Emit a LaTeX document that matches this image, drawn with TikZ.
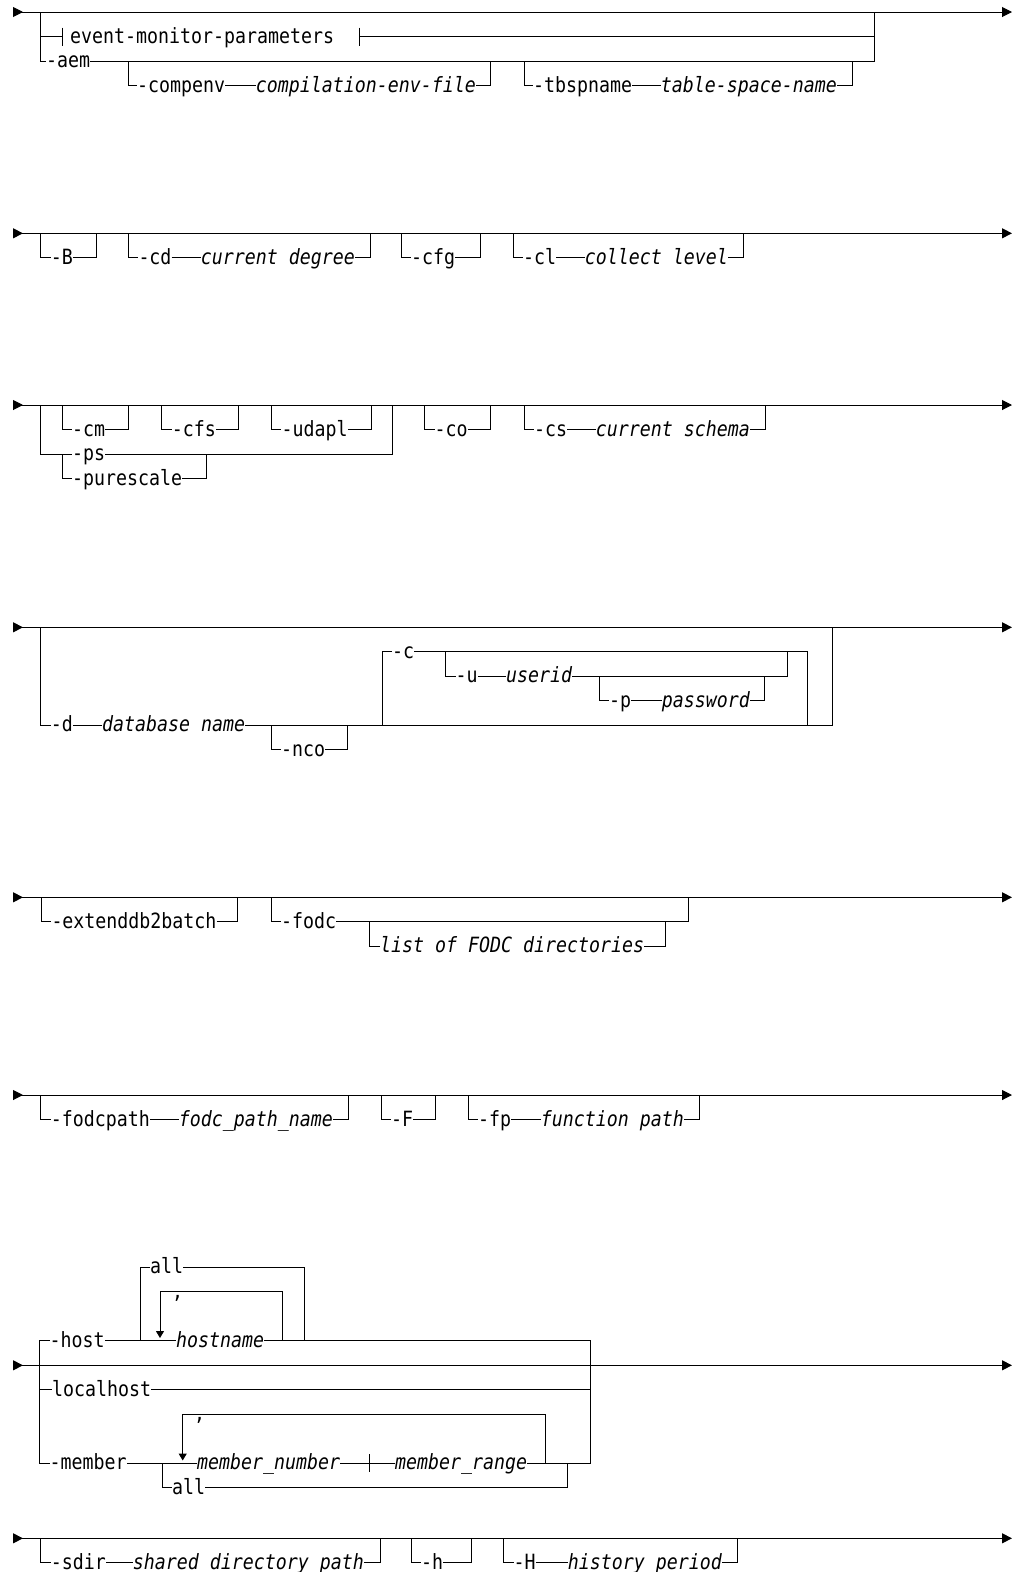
\documentclass[tikz,border=0pt]{standalone}
\usepackage{fontspec}
\newfontfamily\railfont[FakeStretch=0.87]{DejaVu Sans Mono}
\usetikzlibrary{positioning, arrows.meta}

\tikzset{
  rail/.style={line width=1pt},
  kw/.style={inner sep=0pt, text height=13pt, text depth=0pt, anchor=west,
             font={\railfont\fontsize{21pt}{24pt}\selectfont}},
  var/.style={kw, font={\railfont\fontsize{21pt}{24pt}\selectfont\itshape}},
  endtip/.style={-{Triangle[length=10pt,width=10pt]}},
  looptip/.style={-{Triangle[length=7pt,width=8pt]}}
}

\begin{document}
\begin{tikzpicture}[x=1pt, y=-1pt]
    \useasboundingbox (0,0) rectangle (1019,1572);

    % main lines
    \coordinate (in1) at (13,12);      \coordinate (out1) at (1012,12);
    \coordinate (in2) at (13,233.3);   \coordinate (out2) at (1012,233.3);
    \coordinate (in3) at (13,405);     \coordinate (out3) at (1012,405);
    \coordinate (in4) at (13,627.3);   \coordinate (out4) at (1012,627.3);
    \coordinate (in5) at (13,897.3);   \coordinate (out5) at (1012,897.3);
    \coordinate (in6) at (13,1095);    \coordinate (out6) at (1012,1095);
    \coordinate (in7) at (13,1365.3);  \coordinate (out7) at (1012,1365.3);
    \coordinate (in8) at (13,1538.3);  \coordinate (out8) at (1012,1538.3);
    \draw[rail, endtip] (in1) -- (out1);  \draw[rail, endtip] (in1) -- ++(10,0);
    \draw[rail, endtip] (in2) -- (out2);  \draw[rail, endtip] (in2) -- ++(10,0);
    \draw[rail, endtip] (in3) -- (out3);  \draw[rail, endtip] (in3) -- ++(10,0);
    \draw[rail, endtip] (in4) -- (out4);  \draw[rail, endtip] (in4) -- ++(10,0);
    \draw[rail, endtip] (in5) -- (out5);  \draw[rail, endtip] (in5) -- ++(10,0);
    \draw[rail, endtip] (in6) -- (out6);  \draw[rail, endtip] (in6) -- ++(10,0);
    \draw[rail, endtip] (in7) -- (out7);  \draw[rail, endtip] (in7) -- ++(10,0);
    \draw[rail, endtip] (in8) -- (out8);  \draw[rail, endtip] (in8) -- ++(10,0);

    % row 1
    \coordinate (r1L) at (40.7,12);  \coordinate (r1R) at (874.5,12);
    \coordinate (empA) at (62,36.5); \coordinate (empB) at (359,36.5);
    \node[kw] (emp) at (70,36.5) {event-monitor-parameters};
    \draw[rail] (r1L) |- (empA);
    \draw[rail] (empA) ++(0,-9) -- ++(0,18);
    \draw[rail] (empB) ++(0,-9) -- ++(0,18);
    \draw[rail] (empB) -- (empB -| r1R);
    \node[kw] (aem) at (46,61) {-aem};
    \draw[rail] (r1L) |- (aem.west);
    \draw[rail] (aem.east) -| (r1R);
    \coordinate (cpL) at (128.3,61); \coordinate (cpR) at (490,61);
    \node[kw] (compenv) at (137,85.5) {-compenv};
    \node[var, anchor=east] (cpfile) at (476,85.5) {compilation-env-file};
    \draw[rail] (cpL) |- (compenv.west) (compenv.east) -- (cpfile.west) (cpfile.east) -| (cpR);
    \coordinate (tbL) at (524,61); \coordinate (tbR) at (852,61);
    \node[kw] (tbsp) at (533,85.5) {-tbspname};
    \node[var, anchor=east] (tbname) at (837,85.5) {table-space-name};
    \draw[rail] (tbL) |- (tbsp.west) (tbsp.east) -- (tbname.west) (tbname.east) -| (tbR);

    % row 2
    \coordinate (bL) at (40.7,233.3); \coordinate (bR) at (96,233.3);
    \node[kw] (B) at (50.7,257.8) {-B};
    \draw[rail] (bL) |- (B.west) (B.east) -| (bR);
    \coordinate (cdL) at (128.3,233.3); \coordinate (cdR) at (370,233.3);
    \node[kw] (cd) at (138.3,257.8) {-cd};
    \node[var, anchor=east] (cdeg) at (355,257.8) {current degree};
    \draw[rail] (cdL) |- (cd.west) (cd.east) -- (cdeg.west) (cdeg.east) -| (cdR);
    \coordinate (cfgL) at (401,233.3); \coordinate (cfgR) at (480,233.3);
    \node[kw] (cfg) at (411,257.8) {-cfg};
    \draw[rail] (cfgL) |- (cfg.west) (cfg.east) -| (cfgR);
    \coordinate (clL) at (513,233.3); \coordinate (clR) at (743,233.3);
    \node[kw] (cl) at (523,257.8) {-cl};
    \node[var, anchor=east] (clev) at (728,257.8) {collect level};
    \draw[rail] (clL) |- (cl.west) (cl.east) -- (clev.west) (clev.east) -| (clR);

    % row 3
    \coordinate (r3L) at (40.8,405); \coordinate (grR) at (392,405);
    \coordinate (cmL) at (62,405); \coordinate (cmR) at (128.6,405);
    \node[kw] (cm) at (72,429.5) {-cm};
    \draw[rail] (cmL) |- (cm.west) (cm.east) -| (cmR);
    \coordinate (cfsL) at (161.7,405); \coordinate (cfsR) at (238,405);
    \node[kw] (cfs) at (171.7,429.5) {-cfs};
    \draw[rail] (cfsL) |- (cfs.west) (cfs.east) -| (cfsR);
    \coordinate (udL) at (271.4,405); \coordinate (udR) at (371,405);
    \node[kw] (udapl) at (281.4,429.5) {-udapl};
    \draw[rail] (udL) |- (udapl.west) (udapl.east) -| (udR);
    \node[kw] (ps) at (72,454) {-ps};
    \draw[rail] (r3L) |- (ps.west);
    \draw[rail] (ps.east) -| (grR);
    \coordinate (psJ) at (62,454); \coordinate (pureR) at (206.6,454);
    \node[kw] (pure) at (72,478.5) {-purescale};
    \draw[rail] (psJ) |- (pure.west) (pure.east) -| (pureR);
    \coordinate (coL) at (424.5,405); \coordinate (coR) at (490.8,405);
    \node[kw] (co) at (434.5,429.5) {-co};
    \draw[rail] (coL) |- (co.west) (co.east) -| (coR);
    \coordinate (csL) at (524,405); \coordinate (csR) at (765,405);
    \node[kw] (cs) at (534,429.5) {-cs};
    \node[var, anchor=east] (cschema) at (750,429.5) {current schema};
    \draw[rail] (csL) |- (cs.west) (cs.east) -- (cschema.west) (cschema.east) -| (csR);

    % row 4
    \coordinate (r4L) at (40.6,627.3); \coordinate (r4R) at (832,627.3);
    \node[kw] (d) at (50.6,725.3) {-d};
    \node[var] (dbname) at (102,725.3) {database name};
    \draw[rail] (r4L) |- (d.west) (d.east) -- (dbname.west);
    \draw[rail] (dbname.east) -| (r4R);
    \coordinate (ncoL) at (271,725.3); \coordinate (ncoR) at (347,725.3);
    \node[kw] (nco) at (281,749.8) {-nco};
    \draw[rail] (ncoL) |- (nco.west) (nco.east) -| (ncoR);
    \coordinate (cL) at (382,725.3); \coordinate (cR) at (807.6,725.3);
    \node[kw] (c) at (392,651.8) {-c};
    \draw[rail] (cL) |- (c.west) (c.east) -| (cR);
    \coordinate (uL) at (445.5,651.8); \coordinate (uR) at (787,651.8);
    \node[kw] (u) at (455.5,676.3) {-u};
    \node[var] (userid) at (506,676.3) {userid};
    \draw[rail] (uL) |- (u.west) (u.east) -- (userid.west) (userid.east) -| (uR);
    \coordinate (pL) at (599,676.3); \coordinate (pR) at (764,676.3);
    \node[kw] (p) at (609,700.8) {-p};
    \node[var, anchor=east] (passwd) at (750,700.8) {password};
    \draw[rail] (pL) |- (p.west) (p.east) -- (passwd.west) (passwd.east) -| (pR);

    % row 5
    \coordinate (exL) at (41.3,897.3); \coordinate (exR) at (237.8,897.3);
    \node[kw] (ext) at (51.3,921.8) {-extenddb2batch};
    \draw[rail] (exL) |- (ext.west) (ext.east) -| (exR);
    \coordinate (fdL) at (271,897.3); \coordinate (fdR) at (688.7,897.3);
    \node[kw] (fodc) at (281,921.8) {-fodc};
    \draw[rail] (fdL) |- (fodc.west) (fodc.east) -| (fdR);
    \coordinate (lsL) at (369.6,921.8); \coordinate (lsR) at (665.7,921.8);
    \node[var] (fdirs) at (380,946.3) {list of FODC directories};
    \draw[rail] (lsL) |- (fdirs.west) (fdirs.east) -| (lsR);

    % row 6
    \coordinate (fpathL) at (40.7,1095); \coordinate (fpathR) at (348,1095);
    \node[kw] (fpath) at (50.7,1119.5) {-fodcpath};
    \node[var, anchor=east] (fpname) at (333,1119.5) {fodc\_path\_name};
    \draw[rail] (fpathL) |- (fpath.west) (fpath.east) -- (fpname.west) (fpname.east) -| (fpathR);
    \coordinate (FL) at (381,1095); \coordinate (FR) at (435,1095);
    \node[kw] (F) at (391,1119.5) {-F};
    \draw[rail] (FL) |- (F.west) (F.east) -| (FR);
    \coordinate (fpL) at (468,1095); \coordinate (fpR) at (699,1095);
    \node[kw] (fp) at (478,1119.5) {-fp};
    \node[var, anchor=east] (fnpath) at (684,1119.5) {function path};
    \draw[rail] (fpL) |- (fp.west) (fp.east) -- (fnpath.west) (fnpath.east) -| (fpR);

    % row 7
    \coordinate (grpL) at (39.5,1365.3); \coordinate (grpR) at (590,1365.3);
    \node[kw] (host) at (49.5,1340.8) {-host};
    \node[kw] (lhost) at (52,1389.8) {localhost};
    \node[kw] (member) at (49.5,1463.3) {-member};
    \draw[rail] (host.west) -| (grpL) |- (member.west);
    \draw[rail] (grpL) |- (lhost.west);
    \node[var] (hostname) at (176,1340.8) {hostname};
    \draw[rail] (host.east) -- (hostname.west);
    \draw[rail] (hostname.east) -| (grpR);
    \draw[rail] (lhost.east) -| (grpR);
    \coordinate (allL) at (140.4,1340.8); \coordinate (allR) at (304.5,1340.8);
    \node[kw] (hall) at (150,1267.3) {all};
    \draw[rail] (allL) |- (hall.west) (hall.east) -| (allR);
    \coordinate (hlpL) at (160,1291.8); \coordinate (hlpR) at (282.7,1340.8);
    \coordinate (hlpT) at (160,1338);
    \node[kw] (hcomma) at (172,1291.8) {,};
    \draw[rail, looptip] (hlpR) |- (hlpL) -- (hlpT);
    \coordinate (maL) at (162,1463.3); \coordinate (maR) at (567.4,1463.3);
    \node[kw] (mall) at (172,1487.8) {all};
    \draw[rail] (maL) |- (mall.west) (mall.east) -| (maR);
    \node[var] (mnum) at (197,1463.3) {member\_number};
    \node[var] (mrange) at (395,1463.3) {member\_range};
    \coordinate (mbar) at (369.7,1463.3);
    \draw[rail] (member.east) -- (mnum.west) (mnum.east) -- (mrange.west);
    \draw[rail] (mrange.east) -| (grpR);
    \draw[rail] (mbar) ++(0,-9) -- ++(0,18);
    \coordinate (mlpL) at (182.7,1414.3); \coordinate (mlpR) at (545.7,1463.3);
    \coordinate (mlpT) at (182.7,1460.5);
    \node[kw] (mcomma) at (194,1414.3) {,};
    \draw[rail, looptip] (mlpR) |- (mlpL) -- (mlpT);

    % row 8
    \coordinate (sdL) at (40.7,1538.3); \coordinate (sdR) at (380,1538.3);
    \node[kw] (sdir) at (50.7,1562.8) {-sdir};
    \node[var, anchor=east] (sdpath) at (364,1562.8) {shared directory path};
    \draw[rail] (sdL) |- (sdir.west) (sdir.east) -- (sdpath.west) (sdpath.east) -| (sdR);
    \coordinate (hL) at (411,1538.3); \coordinate (hR) at (471,1538.3);
    \node[kw] (h) at (421,1562.8) {-h};
    \draw[rail] (hL) |- (h.west) (h.east) -| (hR);
    \coordinate (HL) at (503.5,1538.3); \coordinate (HR) at (737,1538.3);
    \node[kw] (H) at (513.5,1562.8) {-H};
    \node[var, anchor=east] (hperiod) at (722,1562.8) {history period};
    \draw[rail] (HL) |- (H.west) (H.east) -- (hperiod.west) (hperiod.east) -| (HR);
\end{tikzpicture}
\end{document}
